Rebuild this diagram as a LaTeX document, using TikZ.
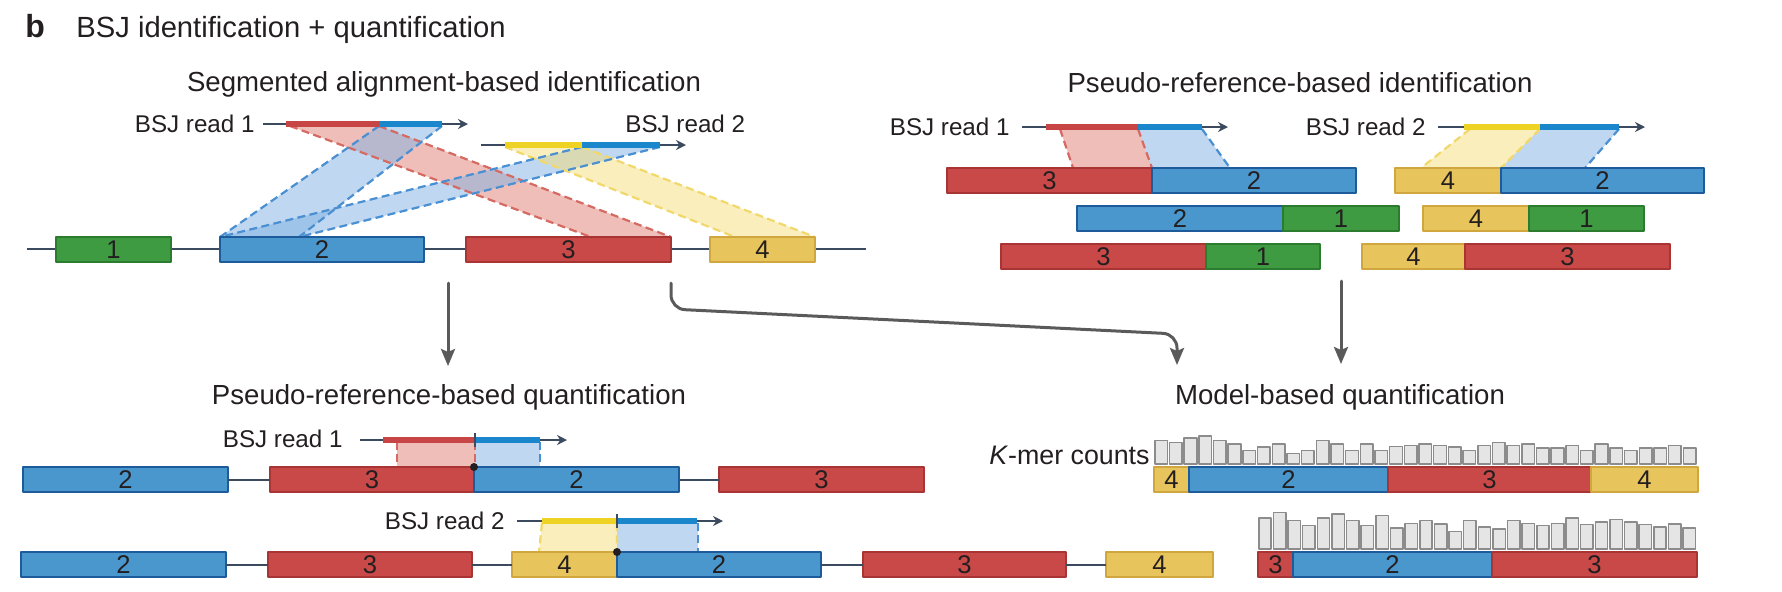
\documentclass[tikz,border=0pt]{standalone}
\usepackage{fontspec}
\setmainfont{Liberation Sans}
\usetikzlibrary{arrows.meta}
\definecolor{ink}{HTML}{231F20}
\definecolor{slate}{HTML}{3B4A5E}
\definecolor{exred}{HTML}{C94848}
\definecolor{exredd}{HTML}{A93434}
\definecolor{exblue}{HTML}{4A97CE}
\definecolor{exblued}{HTML}{1E5B9B}
\definecolor{exgreen}{HTML}{3E9B41}
\definecolor{exgreend}{HTML}{2B7C2E}
\definecolor{exyel}{HTML}{E8C45C}
\definecolor{exyeld}{HTML}{D0A63E}
\definecolor{segred}{HTML}{C84545}
\definecolor{segblue}{HTML}{1A86CB}
\definecolor{segyel}{HTML}{EED224}
\definecolor{bandred}{HTML}{E07E74}
\definecolor{bandblue}{HTML}{7FB0E2}
\definecolor{bandyel}{HTML}{F3DE7A}
\definecolor{dashred}{HTML}{D56A62}
\definecolor{dashblue}{HTML}{4A8FD2}
\definecolor{dashyel}{HTML}{F1D86A}
\definecolor{flowgray}{HTML}{5A5A5A}
\definecolor{barfill}{HTML}{E5E5E6}
\definecolor{bardraw}{HTML}{8C8C8C}
% exon box: style, name, left x, right x, centre y, label
\newcommand\exonbox[6]{\node[#1,minimum width={(#4-#3)*0.5pt}] (#2) at (#3,#5) {#6};}
\begin{document}
\begin{tikzpicture}[x=0.5pt,y=-0.5pt,line join=round,
    lab/.style={text=ink,inner sep=0pt,font=\fontsize{12.1}{14}\selectfont},
    head/.style={text=ink,inner sep=0pt,anchor=base,font=\fontsize{13.8}{16}\selectfont},
    ex/.style={draw,line width=1pt,inner sep=0pt,outer sep=0pt,anchor=west,
      minimum height=12.5pt,text=ink,font=\fontsize{12.8}{14}\selectfont},
    exR/.style={ex,fill=exred,draw=exredd},
    exB/.style={ex,fill=exblue,draw=exblued},
    exG/.style={ex,fill=exgreen,draw=exgreend},
    exY/.style={ex,fill=exyel,draw=exyeld},
    intron/.style={draw=slate,line width=1pt},
    read/.style={draw=slate,line width=1pt,-{Stealth[length=5pt,width=5pt]}},
    seg/.style={line width=2.8pt},
    band/.style={fill opacity=0.5},
    bedge/.style={line width=1.1pt,dash pattern=on 4pt off 2.2pt},
    flow/.style={draw=flowgray,line width=1.5pt,line cap=round,
      -{Stealth[length=8.5pt,width=7pt,inset=1.5pt]}},
    kbar/.style={fill=barfill,draw=bardraw,line width=0.75pt}]
\useasboundingbox (0,0) rectangle (1782,591);

% titles
\node[text=ink,inner sep=0pt,anchor=base west,font=\bfseries\fontsize{16}{18}\selectfont] (panel) at (25,37) {b};
\node[head,anchor=base west,font=\fontsize{14.6}{17}\selectfont] (title) at (76,37) {BSJ identification + quantification};
\node[head] (hsa) at (444,91) {Segmented alignment-based identification};
\node[head] (hpi) at (1300,92) {Pseudo-reference-based identification};
\node[head] (hpq) at (449,404) {Pseudo-reference-based quantification};
\node[head] (hmq) at (1340,404) {Model-based quantification};

% segmented alignment: bands
\fill[band,bandred] (290,126) -- (379,126) -- (671,237) -- (591,237) -- cycle;
\fill[band,bandblue] (379,126) -- (442,126) -- (299,237) -- (220,237) -- cycle;
\fill[band,bandblue] (582,147) -- (660,147) -- (299,237) -- (220,237) -- cycle;
\fill[band,bandyel] (505,147) -- (582,147) -- (815,237) -- (735,237) -- cycle;
\draw[bedge,dashred] (290,126) -- (591,237) (379,126) -- (671,237);
\draw[bedge,dashyel] (505,147) -- (735,237) (582,147) -- (815,237);
\draw[bedge,dashblue] (379,126) -- (220,237) (442,126) -- (299,237);
\draw[bedge,dashblue] (582,147) -- (220,237) (660,147) -- (299,237);
\coordinate (gL) at (27,249);
\coordinate (gR) at (866,249);
\draw[intron] (gL) -- (gR);
\exonbox{exG}{g1}{56}{171}{249.5}{1}
\exonbox{exB}{g2}{220}{424}{249.5}{2}
\exonbox{exR}{g3}{466}{671}{249.5}{3}
\exonbox{exY}{g4}{710}{815}{249.5}{4}
\draw[read] (263,124) -- (468,124);
\draw[seg,segred] (286,124) -- (379,124);
\draw[seg,segblue] (379,124) -- (442,124);
\draw[read] (481,145) -- (686,145);
\draw[seg,segyel] (505,145) -- (582,145);
\draw[seg,segblue] (582,145) -- (660,145);
\node[lab,anchor=east] (sr1) at (255,124) {BSJ read 1};
\node[lab,anchor=west] (sr2) at (625,124) {BSJ read 2};

% pseudo-reference identification
\fill[band,bandred] (1060,129) -- (1138,129) -- (1152,168) -- (1073,168) -- cycle;
\fill[band,bandblue] (1138,129) -- (1202,129) -- (1230,168) -- (1152,168) -- cycle;
\fill[band,bandyel] (1470,129) -- (1540,129) -- (1501,168) -- (1421,168) -- cycle;
\fill[band,bandblue] (1540,129) -- (1619,129) -- (1585,168) -- (1501,168) -- cycle;
\draw[bedge,dashred] (1060,129) -- (1073,168) (1138,129) -- (1152,168);
\draw[bedge,dashblue] (1202,129) -- (1230,168);
\draw[bedge,dashyel] (1470,129) -- (1421,168) (1540,129) -- (1501,168);
\draw[bedge,dashblue] (1619,129) -- (1585,168);
\exonbox{exR}{p1a}{947}{1152}{180.5}{3}
\exonbox{exB}{p1b}{1152}{1356}{180.5}{2}
\exonbox{exY}{p1c}{1395}{1501}{180.5}{4}
\exonbox{exB}{p1d}{1501}{1704}{180.5}{2}
\exonbox{exB}{p2a}{1077}{1283}{218.5}{2}
\exonbox{exG}{p2b}{1283}{1399}{218.5}{1}
\exonbox{exY}{p2c}{1423}{1529}{218.5}{4}
\exonbox{exG}{p2d}{1529}{1644}{218.5}{1}
\exonbox{exR}{p3a}{1001}{1206}{256.5}{3}
\exonbox{exG}{p3b}{1206}{1320}{256.5}{1}
\exonbox{exY}{p3c}{1362}{1465}{256.5}{4}
\exonbox{exR}{p3d}{1465}{1670}{256.5}{3}
\draw[read] (1022,127) -- (1228,127);
\draw[seg,segred] (1046,127) -- (1138,127);
\draw[seg,segblue] (1138,127) -- (1202,127);
\draw[read] (1438,127) -- (1645,127);
\draw[seg,segyel] (1464,127) -- (1540,127);
\draw[seg,segblue] (1540,127) -- (1619,127);
\node[lab,anchor=east] (pr1) at (1010,127) {BSJ read 1};
\node[lab,anchor=east] (pr2) at (1426,127) {BSJ read 2};

% arrows
\coordinate (aL1) at (448,283);
\coordinate (aL2) at (448,366);
\coordinate (aM1) at (671,283);
\coordinate (aM2) at (1177,365);
\coordinate (aR1) at (1341,281);
\coordinate (aR2) at (1341,364);
\draw[flow] (aL1) -- (aL2);
\draw[flow,rounded corners=7pt] (aM1) -- (671,309) -- (1177,334) -- (aM2);
\draw[flow] (aR1) -- (aR2);

% pseudo-reference quantification
\fill[band,bandred] (397,442) rectangle (475,467);
\fill[band,bandblue] (475,442) rectangle (540,467);
\fill[band,bandyel] (542,523) -- (617,523) -- (617,552) -- (539,552) -- cycle;
\fill[band,bandblue] (617,523) rectangle (698,552);
\draw[bedge,dashred] (397,442) -- (397,467) (475,442) -- (475,467);
\draw[bedge,dashblue] (540,442) -- (540,467);
\draw[bedge,dashyel] (542,523) -- (539,552) (617,523) -- (617,552);
\draw[bedge,dashblue] (698,523) -- (698,552);
\exonbox{exB}{a1}{23}{228}{479.5}{2}
\exonbox{exR}{a2}{270}{474}{479.5}{3}
\exonbox{exB}{a3}{474}{679}{479.5}{2}
\exonbox{exR}{a4}{719}{924}{479.5}{3}
\draw[intron] (a1.east) -- (a2.west) (a3.east) -- (a4.west);
\exonbox{exB}{b1}{21}{226}{564.5}{2}
\exonbox{exR}{b2}{268}{472}{564.5}{3}
\exonbox{exY}{b3}{512}{617}{564.5}{4}
\exonbox{exB}{b4}{617}{821}{564.5}{2}
\exonbox{exR}{b5}{863}{1066}{564.5}{3}
\exonbox{exY}{b6}{1106}{1213}{564.5}{4}
\draw[intron] (b1.east) -- (b2.west) (b2.east) -- (b3.west) (b4.east) -- (b5.west) (b5.east) -- (b6.west);
\draw[read] (360,440) -- (567,440);
\draw[seg,segred] (383,440) -- (475,440);
\draw[seg,segblue] (475,440) -- (540,440);
\draw[slate,line width=1pt] (475,433) -- (475,447);
\fill[ink] (a3.north west) circle (2pt);
\draw[read] (517,521) -- (723,521);
\draw[seg,segyel] (542,521) -- (617,521);
\draw[seg,segblue] (617,521) -- (697,521);
\draw[slate,line width=1pt] (617,514) -- (617,528);
\fill[ink] (b4.north west) circle (2pt);
\node[lab,anchor=east] (qr1) at (343,439) {BSJ read 1};
\node[lab,anchor=east] (qr2) at (505,521) {BSJ read 2};

% model-based quantification
\exonbox{exY}{m1}{1154}{1189}{479.5}{4}
\exonbox{exB}{m2}{1189}{1388}{479.5}{2}
\exonbox{exR}{m3}{1388}{1591}{479.5}{3}
\exonbox{exY}{m4}{1591}{1698}{479.5}{4}
\exonbox{exR}{n1}{1258}{1293}{564.5}{3}
\exonbox{exB}{n2}{1293}{1492}{564.5}{2}
\exonbox{exR}{n3}{1492}{1697}{564.5}{3}
\foreach \h [count=\i] in {23.3,21.7,26,28,23.7,20,13.7,17,20,10.3,13.7,23.7,20,13.7,20,13.7,17.7,18.7,20,18.7,17,13.7,18.7,21.7,18.7,20,16,16,18.7,13.7,20,16,13.7,16,16,18.7,16}
  \draw[kbar] ({1154.8+(\i-1)*14.68},464) rectangle ++(12.6,-\h);
\foreach \h [count=\i] in {31,36.7,28.7,23.3,31,35,28.7,23.3,33.3,21,25.3,28.7,25,17.7,28.7,22,20,28.7,25.3,23.3,25.3,31,24.3,27,29.3,27,24.3,22,25,21}
  \draw[kbar] ({1258.8+(\i-1)*14.63},549) rectangle ++(12.4,-\h);
\node[lab,anchor=east,font=\fontsize{13.4}{16}\selectfont] (kmer) at (1150,455) {\textit{K}-mer counts};
\end{tikzpicture}
\end{document}
